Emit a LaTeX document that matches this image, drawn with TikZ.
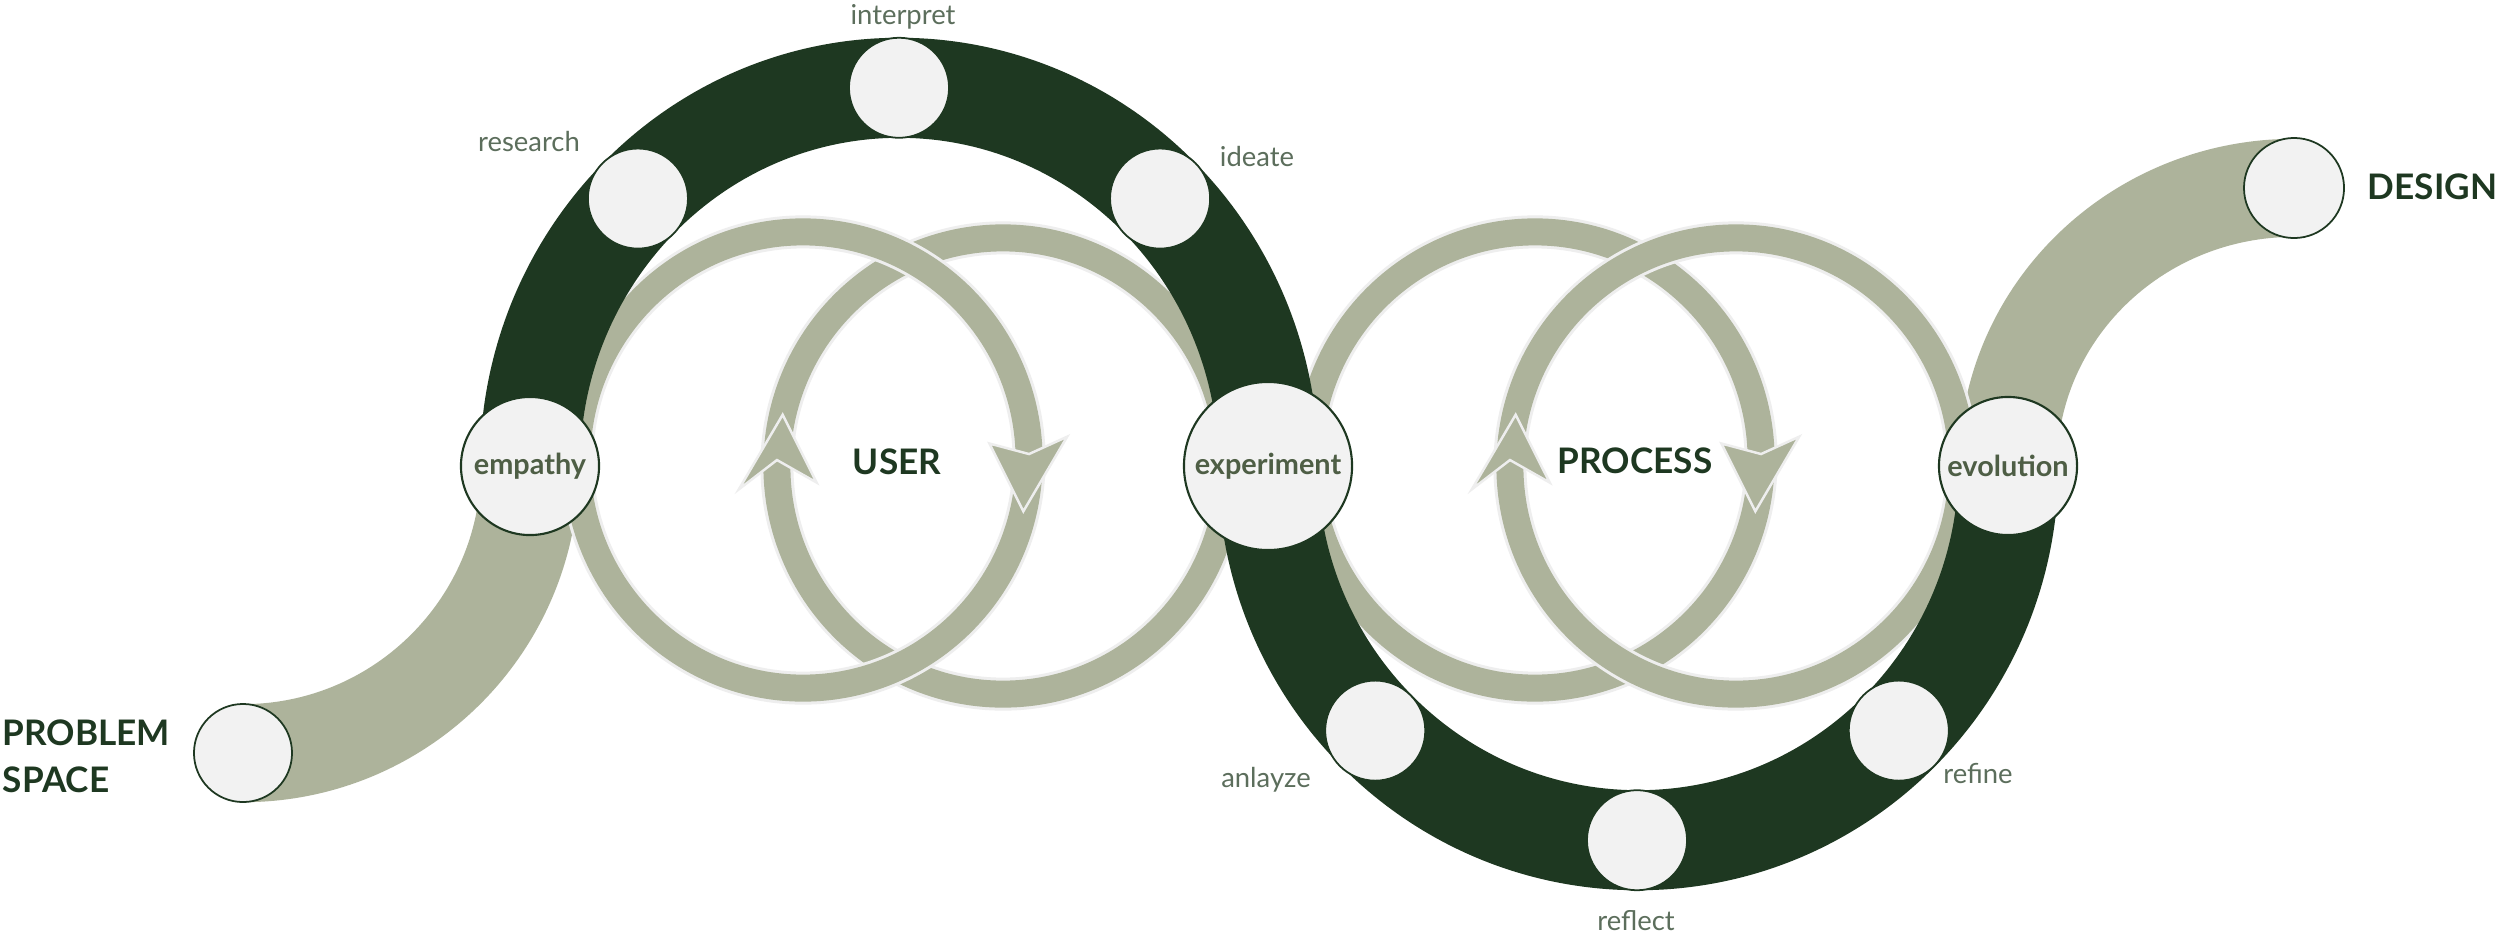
\documentclass[tikz,border=0pt]{standalone}
\usepackage{fontspec}
\setmainfont{Lato}
\usetikzlibrary{calc}
\definecolor{dkg}{HTML}{1E3821}
\definecolor{lgt}{HTML}{ADB39B}
\definecolor{cfill}{HTML}{F2F2F2}
\definecolor{ctext}{HTML}{4E5E45}
\definecolor{ltext}{HTML}{5C6E5C}
\definecolor{edgec}{HTML}{EEEEEE}
\begin{document}
\begin{tikzpicture}[x=0.01cm,y=0.01cm,
  darkband/.style={draw=dkg, line width=1cm},
  tailband/.style={draw=lgt, line width=0.98cm},
  loopedge/.style={draw=edgec, line width=0.33cm},
  loopband/.style={draw=lgt, line width=0.27cm},
  arrowhd/.style={fill=lgt, draw=edgec, line width=0.7pt, line join=miter},
  bigdot/.style={circle, fill=cfill, draw=dkg, line width=0.6pt, inner sep=0pt,
    font=\fontsize{8.2}{10}\selectfont\bfseries, text=ctext},
  smalldot/.style={circle, fill=cfill, draw=dkg, line width=0.5pt, inner sep=0pt, minimum size=1cm},
  steplabel/.style={font=\fontsize{7.8}{9}\selectfont, text=ltext, inner sep=0pt},
  mainlabel/.style={font=\fontsize{10}{13.4}\selectfont\bfseries, text=dkg, inner sep=0pt},
]
\useasboundingbox (0,0) rectangle (2500,-939);
\fill[white] (0,0) rectangle (2500,-939);

% key points
\coordinate (T) at (899,-466);
\coordinate (B) at (1637,-466);
\coordinate (pEmp) at (530,-466);
\coordinate (pExp) at (1268,-466);
\coordinate (pEvo) at (2008,-466);
\coordinate (pProb) at (243,-753);
\coordinate (pDes) at (2294,-188);
\coordinate (cA) at (803,-460);
\coordinate (cB) at (1003,-466);
\coordinate (cC) at (1535,-460);
\coordinate (cD) at (1736,-466);

% tails
\draw[tailband] (pEmp) arc[start angle=0, end angle=-90, x radius=2.87cm, y radius=2.87cm];
\draw[tailband] (pEvo) arc[start angle=180, end angle=90, x radius=2.86cm, y radius=2.78cm];

% USER loops (A over B)
\draw[loopedge] (cB) ellipse[x radius=2.26cm, y radius=2.28cm];
\draw[loopband] (cB) ellipse[x radius=2.26cm, y radius=2.28cm];
\filldraw[arrowhd] ($(cB)+(167:2.26cm and 2.28cm)$) -- ($(cB)+(185:2.65cm and 2.67cm)$)
  -- ($(cB)+(178.5:2.26cm and 2.28cm)$) -- ($(cB)+(185:1.87cm and 1.89cm)$) -- cycle;
\draw[loopedge] (cA) ellipse[x radius=2.26cm, y radius=2.28cm];
\draw[loopband] (cA) ellipse[x radius=2.26cm, y radius=2.28cm];
\filldraw[arrowhd] ($(cA)+(-13:2.26cm and 2.28cm)$) -- ($(cA)+(5:2.65cm and 2.67cm)$)
  -- ($(cA)+(1.5:2.26cm and 2.28cm)$) -- ($(cA)+(5:1.87cm and 1.89cm)$) -- cycle;

% PROCESS loops (D over C)
\draw[loopedge] (cC) ellipse[x radius=2.26cm, y radius=2.28cm];
\draw[loopband] (cC) ellipse[x radius=2.26cm, y radius=2.28cm];
\filldraw[arrowhd] ($(cC)+(-13:2.26cm and 2.28cm)$) -- ($(cC)+(5:2.65cm and 2.67cm)$)
  -- ($(cC)+(1.5:2.26cm and 2.28cm)$) -- ($(cC)+(5:1.87cm and 1.89cm)$) -- cycle;
\draw[loopedge] (cD) ellipse[x radius=2.26cm, y radius=2.28cm];
\draw[loopband] (cD) ellipse[x radius=2.26cm, y radius=2.28cm];
\filldraw[arrowhd] ($(cD)+(167:2.26cm and 2.28cm)$) -- ($(cD)+(185:2.65cm and 2.67cm)$)
  -- ($(cD)+(178.5:2.26cm and 2.28cm)$) -- ($(cD)+(185:1.87cm and 1.89cm)$) -- cycle;

% dark rings
\draw[darkband] (pEmp) arc[start angle=180, end angle=0, x radius=3.69cm, y radius=3.78cm];
\draw[darkband] (pExp) arc[start angle=180, end angle=360, x radius=3.70cm, y radius=3.74cm];

% small circles
\node[smalldot] (research) at ($(T)+(135:3.69cm and 3.78cm)$) {};
\node[smalldot] (interpret) at ($(T)+(90:3.69cm and 3.78cm)$) {};
\node[smalldot] (ideate) at ($(T)+(45:3.69cm and 3.78cm)$) {};
\node[smalldot] (anlayze) at ($(B)+(225:3.70cm and 3.74cm)$) {};
\node[smalldot] (reflect) at ($(B)+(270:3.70cm and 3.74cm)$) {};
\node[smalldot] (refine) at ($(B)+(315:3.70cm and 3.74cm)$) {};
\node[smalldot, minimum size=0.98cm] (problem) at (pProb) {};
\node[smalldot] (design) at (pDes) {};

% big circles
\node[bigdot, minimum size=1.38cm] (empathy) at (pEmp) {empathy};
\node[bigdot, minimum size=1.68cm] (experiment) at (pExp) {experiment};
\node[bigdot, minimum size=1.38cm] (evolution) at (pEvo) {evolution};

% step labels
\node[steplabel] (tinterpret) at (903,-17) {interpret};
\node[steplabel] (tresearch) at (529,-142) {research};
\node[steplabel] (tideate) at (1257,-157) {ideate};
\node[steplabel] (tanlayze) at (1266,-780) {anlayze};
\node[steplabel] (treflect) at (1636,-921) {reflect};
\node[steplabel] (trefine) at (1978,-773) {refine};

% main labels
\node[mainlabel] (tuser) at (897,-462) {USER};
\node[mainlabel] (tprocess) at (1635,-461) {PROCESS};
\node[mainlabel, anchor=west] (tdesign) at (2367,-187) {DESIGN};
\node[mainlabel, anchor=west, align=left] (tproblem) at (2,-756) {PROBLEM\\SPACE};
\end{tikzpicture}
\end{document}
